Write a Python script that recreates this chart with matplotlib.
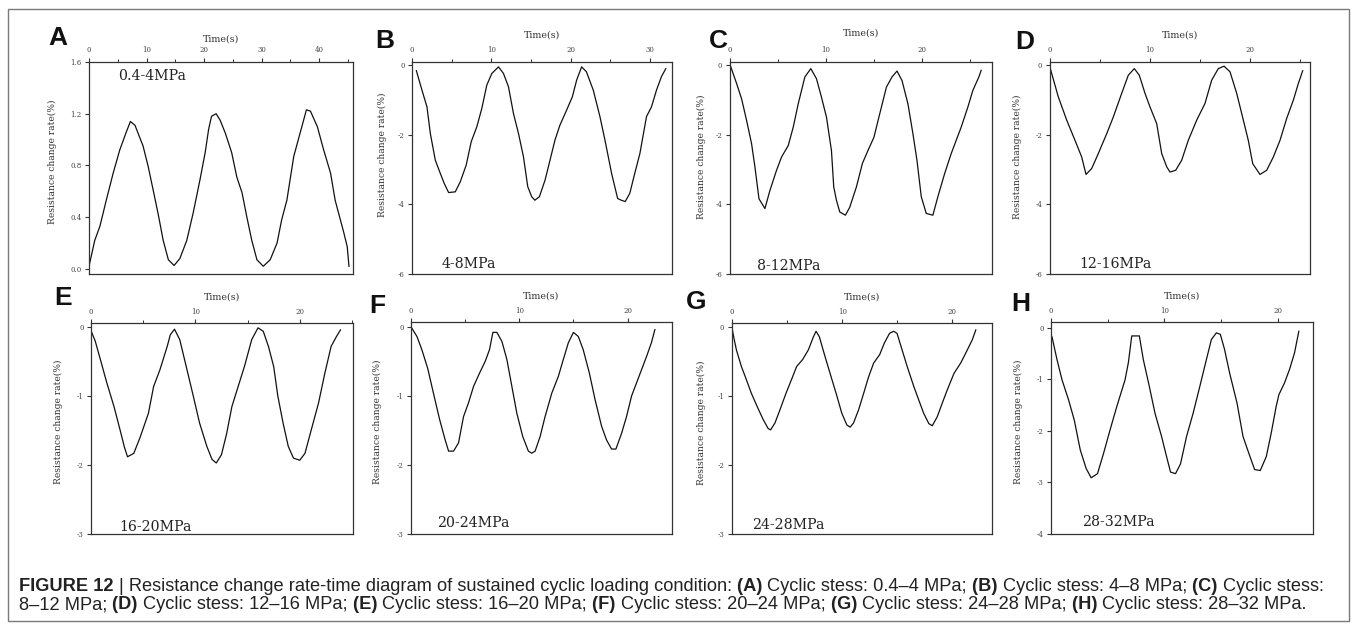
import matplotlib
matplotlib.use('Agg')
import matplotlib.pyplot as plt
from matplotlib.ticker import MultipleLocator, FixedLocator, FixedFormatter
from matplotlib import font_manager
from matplotlib.patches import Rectangle

plt.rcParams['axes.unicode_minus'] = False

# ---------------- data ----------------
t_A = [0.1, 1.0, 1.9, 3.0, 4.2, 5.35, 6.5, 7.2, 8.0, 9.4, 10.3, 11.2, 12.0, 12.9, 13.8, 14.8, 15.8, 17.0, 18.1, 19.3,
       20.2, 20.8, 21.3, 22.1, 22.8, 23.7, 24.8, 25.7, 26.6, 27.4, 28.3, 29.2, 30.3, 31.5, 32.7, 33.5, 34.4, 35.6, 36.7,
       37.8, 38.5, 39.7, 40.8, 42.0, 42.8, 43.7, 44.3, 44.9, 45.2]
r_A = [0.04, 0.22, 0.33, 0.53, 0.74, 0.92, 1.06, 1.14, 1.11, 0.95, 0.79, 0.60, 0.43, 0.22, 0.07, 0.026, 0.08, 0.22, 0.43,
       0.69, 0.90, 1.08, 1.18, 1.20, 1.15, 1.05, 0.90, 0.71, 0.59, 0.41, 0.22, 0.07, 0.02, 0.07, 0.20, 0.38, 0.53, 0.87,
       1.05, 1.23, 1.22, 1.10, 0.92, 0.74, 0.53, 0.38, 0.28, 0.17, 0.02]

t_B = [0.55, 1.26, 1.89, 2.31, 2.94, 3.57, 4.07, 4.62, 5.46, 6.09, 6.84, 7.47, 8.18, 8.81, 9.44, 10.07, 10.91, 11.54,
       12.17, 12.8, 13.43, 14.06, 14.6, 15.1, 15.5, 16.07, 16.79, 17.41, 18.04, 18.67, 19.51, 20.23, 20.77, 21.4, 22.0,
       22.87, 23.71, 24.34, 25.18, 25.94, 26.4, 26.9, 27.48, 28.1, 28.75, 29.58, 30.21, 30.84, 31.47, 32.02]
r_B = [-0.16, -0.72, -1.20, -1.96, -2.73, -3.11, -3.40, -3.66, -3.64, -3.35, -2.87, -2.20, -1.77, -1.24, -0.57, -0.24,
       -0.05, -0.24, -0.62, -1.39, -1.96, -2.63, -3.49, -3.78, -3.88, -3.78, -3.30, -2.73, -2.15, -1.72, -1.29, -0.91,
       -0.43, -0.05, -0.19, -0.72, -1.48, -2.15, -3.11, -3.83, -3.88, -3.92, -3.68, -3.11, -2.54, -1.48, -1.20, -0.72,
       -0.33, -0.10]

t_C = [0.07, 0.69, 1.21, 1.73, 2.25, 2.6, 3.02, 3.64, 4.16, 4.85, 5.37, 6.07, 6.59, 7.11, 7.8, 8.42, 9.01, 9.53, 10.05,
       10.57, 10.81, 11.09, 11.44, 12.03, 12.48, 13.17, 13.8, 14.38, 15.0, 15.6, 16.3, 16.88, 17.4, 17.92, 18.54, 19.06,
       19.48, 19.93, 20.45, 21.14, 21.66, 22.36, 23.05, 23.57, 24.09, 24.78, 25.3, 25.93, 26.17]
r_C = [-0.04, -0.53, -0.97, -1.59, -2.26, -2.93, -3.84, -4.12, -3.60, -3.02, -2.64, -2.31, -1.78, -1.11, -0.34, -0.10,
       -0.39, -0.92, -1.49, -2.45, -3.50, -3.88, -4.22, -4.31, -4.08, -3.50, -2.82, -2.45, -2.07, -1.40, -0.63, -0.34,
       -0.17, -0.44, -1.11, -1.97, -2.73, -3.78, -4.26, -4.31, -3.78, -3.12, -2.54, -2.16, -1.78, -1.21, -0.73, -0.34,
       -0.15]

t_D = [0.07, 0.83, 1.67, 2.5, 3.17, 3.6, 4.17, 4.83, 5.67, 6.33, 7.17, 7.83, 8.43, 8.93, 9.5, 10.0, 10.67, 11.17, 11.67,
       12.0, 12.57, 13.17, 13.83, 14.67, 15.5, 16.17, 16.83, 17.4, 18.0, 18.67, 19.17, 19.83, 20.27, 21.0, 21.67, 22.33,
       23.0, 23.67, 24.33, 24.83, 25.27]
r_D = [-0.14, -0.91, -1.58, -2.16, -2.64, -3.14, -2.97, -2.54, -1.97, -1.49, -0.81, -0.29, -0.10, -0.29, -0.81, -1.20,
       -1.68, -2.54, -2.92, -3.07, -3.02, -2.73, -2.16, -1.58, -1.10, -0.43, -0.10, -0.03, -0.19, -0.81, -1.39, -2.16,
       -2.83, -3.14, -3.02, -2.64, -2.16, -1.53, -1.01, -0.53, -0.16]

t_E = [0.0, 0.4, 0.9, 1.5, 2.2, 2.8, 3.2, 3.5, 4.1, 4.7, 5.5, 6.0, 6.6, 7.3, 7.6, 8.0, 8.5, 9.2, 9.8, 10.4, 11.1, 11.6,
       12.0, 12.5, 13.0, 13.5, 14.1, 14.7, 15.4, 16.0, 16.5, 17.0, 17.5, 17.9, 18.4, 18.9, 19.4, 20.0, 20.5, 21.1, 21.8,
       22.4, 23.0, 23.5, 23.9]
r_E = [-0.05, -0.2, -0.47, -0.8, -1.15, -1.5, -1.74, -1.88, -1.83, -1.6, -1.25, -0.86, -0.62, -0.28, -0.11, -0.03,
       -0.18, -0.62, -1.0, -1.39, -1.73, -1.92, -1.97, -1.85, -1.54, -1.15, -0.86, -0.57, -0.18, -0.01, -0.06, -0.28,
       -0.57, -1.0, -1.39, -1.73, -1.9, -1.93, -1.83, -1.49, -1.1, -0.67, -0.28, -0.14, -0.04]

t_F = [0, 0.55, 1.0, 1.54, 2.1, 2.64, 3.16, 3.47, 3.93, 4.39, 4.85, 5.31, 5.78, 6.33, 6.85, 7.25, 7.56, 7.93, 8.39, 8.85,
       9.31, 9.77, 10.32, 10.84, 11.15, 11.46, 11.92, 12.38, 13.0, 13.6, 14.07, 14.53, 15.0, 15.45, 15.9, 16.47, 16.99,
       17.6, 18.06, 18.52, 18.92, 19.45, 19.9, 20.37, 20.83, 21.29, 21.75, 22.2, 22.52]
r_F = [0.0, -0.14, -0.33, -0.6, -0.98, -1.34, -1.64, -1.80, -1.80, -1.68, -1.30, -1.10, -0.86, -0.67, -0.50, -0.33,
       -0.08, -0.08, -0.21, -0.47, -0.86, -1.25, -1.59, -1.80, -1.83, -1.80, -1.59, -1.30, -0.96, -0.72, -0.47, -0.23,
       -0.08, -0.14, -0.33, -0.67, -1.05, -1.44, -1.64, -1.77, -1.77, -1.54, -1.30, -1.0, -0.81, -0.62, -0.43, -0.23,
       -0.04]

t_G = [0, 0.15, 0.4, 0.85, 1.3, 1.76, 2.28, 2.83, 3.28, 3.5, 3.9, 4.35, 4.9, 5.4, 5.87, 6.41, 6.93, 7.39, 7.63, 7.93,
       8.36, 8.9, 9.45, 9.97, 10.43, 10.73, 11.03, 11.49, 11.95, 12.4, 12.86, 13.4, 13.83, 14.3, 14.68, 14.98, 15.44,
       15.9, 16.5, 16.96, 17.4, 17.87, 18.18, 18.63, 19.09, 19.54, 20.15, 20.76, 21.3, 21.82, 22.13]
r_G = [-0.01, -0.14, -0.33, -0.57, -0.76, -0.96, -1.15, -1.34, -1.47, -1.49, -1.39, -1.20, -0.96, -0.76, -0.57, -0.47,
       -0.33, -0.14, -0.06, -0.14, -0.38, -0.67, -0.96, -1.25, -1.42, -1.45, -1.39, -1.20, -0.96, -0.72, -0.52, -0.40,
       -0.23, -0.09, -0.06, -0.09, -0.33, -0.57, -0.86, -1.06, -1.25, -1.40, -1.43, -1.30, -1.10, -0.91, -0.67, -0.52,
       -0.35, -0.18, -0.04]

t_H = [0.09, 0.53, 0.97, 1.55, 2.05, 2.58, 3.1, 3.54, 4.1, 4.63, 5.21, 5.8, 6.53, 6.82, 7.12, 7.79, 8.14, 8.67, 9.17,
       9.75, 10.19, 10.54, 10.98, 11.42, 11.95, 12.53, 13.12, 13.7, 14.14, 14.58, 14.93, 15.3, 15.75, 16.4, 16.93, 17.45,
       17.95, 18.45, 18.98, 19.41, 19.85, 20.09, 20.59, 21.03, 21.47, 21.85]
r_H = [-0.18, -0.62, -1.01, -1.40, -1.79, -2.37, -2.73, -2.91, -2.83, -2.44, -1.98, -1.53, -1.01, -0.68, -0.16, -0.16,
       -0.62, -1.14, -1.66, -2.11, -2.50, -2.80, -2.83, -2.64, -2.11, -1.66, -1.14, -0.62, -0.23, -0.10, -0.13, -0.42,
       -0.88, -1.46, -2.11, -2.44, -2.75, -2.77, -2.50, -2.05, -1.53, -1.30, -1.07, -0.81, -0.49, -0.07]

panel_letters = ['A', 'B', 'C', 'D', 'E', 'F', 'G', 'H']
stress_labels = ['0.4-4MPa', '4-8MPa', '8-12MPa', '12-16MPa', '16-20MPa', '20-24MPa', '24-28MPa', '28-32MPa']
times = [t_A, t_B, t_C, t_D, t_E, t_F, t_G, t_H]
rates = [r_A, r_B, r_C, r_D, r_E, r_F, r_G, r_H]
x_max = [45.9, 32.8, 27.3, 26.0, 25.1, 24.1, 23.6, 23.1]
y_lims = [(-0.04, 1.6), (-6, 0.09), (-6, 0.09), (-6, 0.09), (-3, 0.06), (-3, 0.07), (-3, 0.06), (-4, 0.11)]
y_ticks = [[0.0, 0.4, 0.8, 1.2, 1.6], [0, -2, -4, -6], [0, -2, -4, -6], [0, -2, -4, -6],
           [0, -1, -2, -3], [0, -1, -2, -3], [0, -1, -2, -3], [0, -1, -2, -3, -4]]
y_tick_labels = [['0.0', '0.4', '0.8', '1.2', '1.6'], ['0', '-2', '-4', '-6'], ['0', '-2', '-4', '-6'],
                 ['0', '-2', '-4', '-6'], ['0', '-1', '-2', '-3'], ['0', '-1', '-2', '-3'], ['0', '-1', '-2', '-3'],
                 ['0', '-1', '-2', '-3', '-4']]
x_label = 'Time(s)'
y_label = 'Resistance change rate(%)'

caption_line1 = [('FIGURE 12 ', True),
                 ('| Resistance change rate-time diagram of sustained cyclic loading condition: ', False),
                 ('(A) ', True), ('Cyclic stess: 0.4–4 MPa; ', False),
                 ('(B) ', True), ('Cyclic stess: 4–8 MPa; ', False),
                 ('(C) ', True), ('Cyclic stess:', False)]
caption_line2 = [('8–12 MPa; ', False),
                 ('(D) ', True), ('Cyclic stess: 12–16 MPa; ', False),
                 ('(E) ', True), ('Cyclic stess: 16–20 MPa; ', False),
                 ('(F) ', True), ('Cyclic stess: 20–24 MPa; ', False),
                 ('(G) ', True), ('Cyclic stess: 24–28 MPa; ', False),
                 ('(H) ', True), ('Cyclic stess: 28–32 MPa.', False)]

# ---------------- layout (pixels) ----------------
W, H = 1354, 628
axes_px = [(89, 62, 353, 274), (412, 62, 672, 274), (730, 62, 992, 274), (1050, 62, 1310, 274),
           (91, 323, 353, 534), (411, 322, 672, 534), (732, 323, 992, 534), (1051, 322, 1313, 534)]
letter_px = [(58, 38), (385, 41), (718, 41), (1025, 42), (63, 298), (377, 306), (696, 302), (1021, 304)]
ylabel_px = [(52, 162), (382, 155), (701, 157), (1017, 157), (58, 422), (377, 422), (701, 423), (1018, 422)]
xlabel_py = [39, 35, 33, 35, 297, 296, 297, 296]
stress_px = [(118, 76), (442, 264), (757, 266), (1079, 264), (119, 527), (437, 523), (752, 525), (1082, 522)]

SERIF = 'DejaVu Serif'
BOLD_SANS = 'Liberation Sans'

fig = plt.figure(figsize=(W / 100, H / 100), dpi=100)
fig.patch.set_facecolor('white')

# outer frame
fig.add_artist(Rectangle((8 / W, 1 - 621 / H), (1349 - 8) / W, (621 - 9) / H, transform=fig.transFigure,
                         fill=False, edgecolor='#7a7a7a', linewidth=1.0))

for i in range(8):
    l, t, r, b = axes_px[i]
    ax = fig.add_axes([l / W, 1 - b / H, (r - l) / W, (b - t) / H])
    ax.plot(times[i], rates[i], color='#111111', linewidth=0.9)
    ax.set_xlim(0, x_max[i])
    ax.set_ylim(*y_lims[i])
    ax.xaxis.tick_top()
    ax.xaxis.set_label_position('top')
    ax.xaxis.set_major_locator(MultipleLocator(10))
    ax.xaxis.set_minor_locator(MultipleLocator(5))
    ax.yaxis.set_major_locator(FixedLocator(y_ticks[i]))
    ax.yaxis.set_major_formatter(FixedFormatter(y_tick_labels[i]))
    ax.tick_params(axis='both', which='major', direction='out', length=3.2, width=0.8, pad=2.2,
                   labelsize=5, colors='#333333', labelcolor='#444444')
    ax.tick_params(axis='x', which='minor', direction='out', length=2.0, width=0.7, colors='#333333')
    for lab in ax.get_xticklabels() + ax.get_yticklabels():
        lab.set_fontfamily(SERIF)
    for sp in ax.spines.values():
        sp.set_color('#333333')
        sp.set_linewidth(0.9)

    ax.set_xlabel(x_label, fontsize=6.8, family=SERIF, color='#333333')
    ax.xaxis.set_label_coords(0.5, (b - xlabel_py[i]) / (b - t))
    ax.xaxis.label.set_va('center')
    ax.set_ylabel(y_label, fontsize=6.6, family=SERIF, color='#333333')
    yx, yy = ylabel_px[i]
    ax.yaxis.set_label_coords((yx - l) / (r - l), (b - yy) / (b - t))
    ax.yaxis.label.set_va('center')

    sx, sy = stress_px[i]
    ax.text((sx - l) / (r - l), (b - sy) / (b - t), stress_labels[i], transform=ax.transAxes,
            fontsize=10.2, family=SERIF, color='#222222', ha='left', va='center')

    lx, ly = letter_px[i]
    fig.text(lx / W, 1 - ly / H, panel_letters[i], fontsize=19, fontweight='bold', family=BOLD_SANS,
             color='#111111', ha='center', va='center')

# ---------------- caption ----------------
cap_family = 'Liberation Sans'
try:
    font_manager.findfont(font_manager.FontProperties(family='Liberation Sans Narrow'), fallback_to_default=False)
    cap_family = 'Liberation Sans Narrow'
except Exception:
    pass

renderer = fig.canvas.get_renderer()


def seg_width(s, bold, size):
    tx = fig.text(0, 0, 'X' + s + 'X', fontsize=size, family=cap_family,
                  fontweight='bold' if bold else 'normal')
    w1 = tx.get_window_extent(renderer).width
    tx.remove()
    tx = fig.text(0, 0, 'XX', fontsize=size, family=cap_family, fontweight='bold' if bold else 'normal')
    w0 = tx.get_window_extent(renderer).width
    tx.remove()
    return w1 - w0


base = 10.0
total = sum(seg_width(s, bld, base) for s, bld in caption_line1)
cap_size = base * (1330 - 19) / total


def draw_line(segs, x0, base_y):
    x = x0
    for s, bld in segs:
        fig.text(x / W, 1 - base_y / H, s, fontsize=cap_size, family=cap_family,
                 fontweight='bold' if bld else 'normal', color='#222222', ha='left', va='baseline')
        x += seg_width(s, bld, cap_size)


draw_line(caption_line1, 19, 591)
draw_line(caption_line2, 19, 609)

fig.savefig('out.png', dpi=100, facecolor='white')
